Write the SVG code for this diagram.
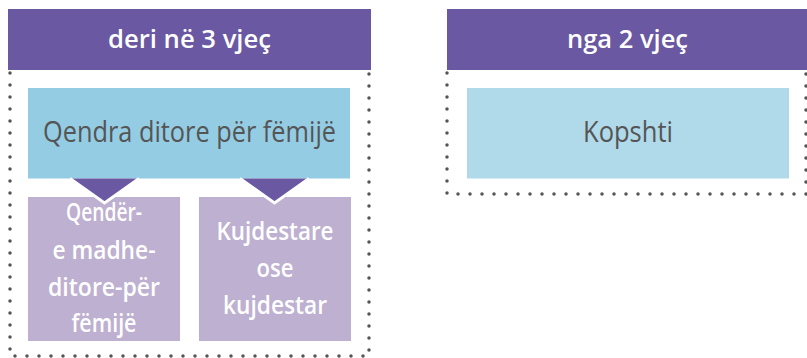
<svg xmlns="http://www.w3.org/2000/svg" width="807" height="358" viewBox="0 0 807 358">
<style>
.hdr{fill:#6A58A2}
.ht{fill:#fff;font-family:"Open Sans","Liberation Sans",sans-serif;font-size:26px;font-weight:600;text-anchor:middle}
.bt{fill:#555;font-family:"Open Sans","Liberation Sans",sans-serif;font-size:29px;text-anchor:middle}
.pt{fill:#fff;font-family:"Open Sans","Liberation Sans",sans-serif;font-size:25px;font-weight:600;text-anchor:middle}
.dot{fill:none;stroke:#555;stroke-width:3.5;stroke-linecap:round;stroke-dasharray:0 12}
.pb{fill:#BEB0D0}
.tri{fill:#6A58A2}
.tre{fill:none;stroke:#fff;stroke-width:3}
</style>
<g id="group-left">
<path class="dot" d="M10,73 V356 H369 V61"/>
<rect class="hdr" x="8" y="9" width="363" height="61"/>
<text class="ht" x="189.5" y="48" textLength="163" lengthAdjust="spacingAndGlyphs">deri në 3 vjeç</text>
</g>
<g id="group-right">
<path class="dot" d="M447,73 V194 H806 V73"/>
<rect class="hdr" x="447" y="9" width="360" height="61"/>
<text class="ht" x="627.5" y="48" textLength="121" lengthAdjust="spacingAndGlyphs">nga 2 vjeç</text>
</g>
<g id="node-qendra">
<rect x="28" y="88" width="322" height="90.5" fill="#94CCE3"/>
<text class="bt" x="189.5" y="142" textLength="293" lengthAdjust="spacingAndGlyphs">Qendra ditore për fëmijë</text>
</g>
<g id="node-kopshti">
<rect x="467" y="88" width="322" height="90.5" fill="#B0DAEA"/>
<text class="bt" x="628" y="142" textLength="90" lengthAdjust="spacingAndGlyphs">Kopshti</text>
</g>
<g id="node-madhe">
<rect class="pb" x="28" y="197" width="152" height="144"/>
<text class="pt" x="104" y="221" textLength="76" lengthAdjust="spacingAndGlyphs">Qendër-</text>
<text class="pt" x="104" y="259" textLength="103" lengthAdjust="spacingAndGlyphs">e madhe-</text>
<text class="pt" x="104" y="296" textLength="112" lengthAdjust="spacingAndGlyphs">ditore-për</text>
<text class="pt" x="104" y="332" textLength="65" lengthAdjust="spacingAndGlyphs">fëmijë</text>
</g>
<g id="node-kujdestare">
<rect class="pb" x="199" y="197" width="152" height="144"/>
<text class="pt" x="275" y="240" textLength="117" lengthAdjust="spacingAndGlyphs">Kujdestare</text>
<text class="pt" x="275" y="277" textLength="37" lengthAdjust="spacingAndGlyphs">ose</text>
<text class="pt" x="275" y="314" textLength="104" lengthAdjust="spacingAndGlyphs">kujdestar</text>
</g>
<g id="connectors">
<path class="tri" d="M70,178.5 H139 L104.5,203 Z"/>
<path class="tre" d="M70,178.5 L104.5,203 L139,178.5"/>
<path class="tri" d="M240,178.5 H309 L274.5,203 Z"/>
<path class="tre" d="M240,178.5 L274.5,203 L309,178.5"/>
</g>
</svg>
